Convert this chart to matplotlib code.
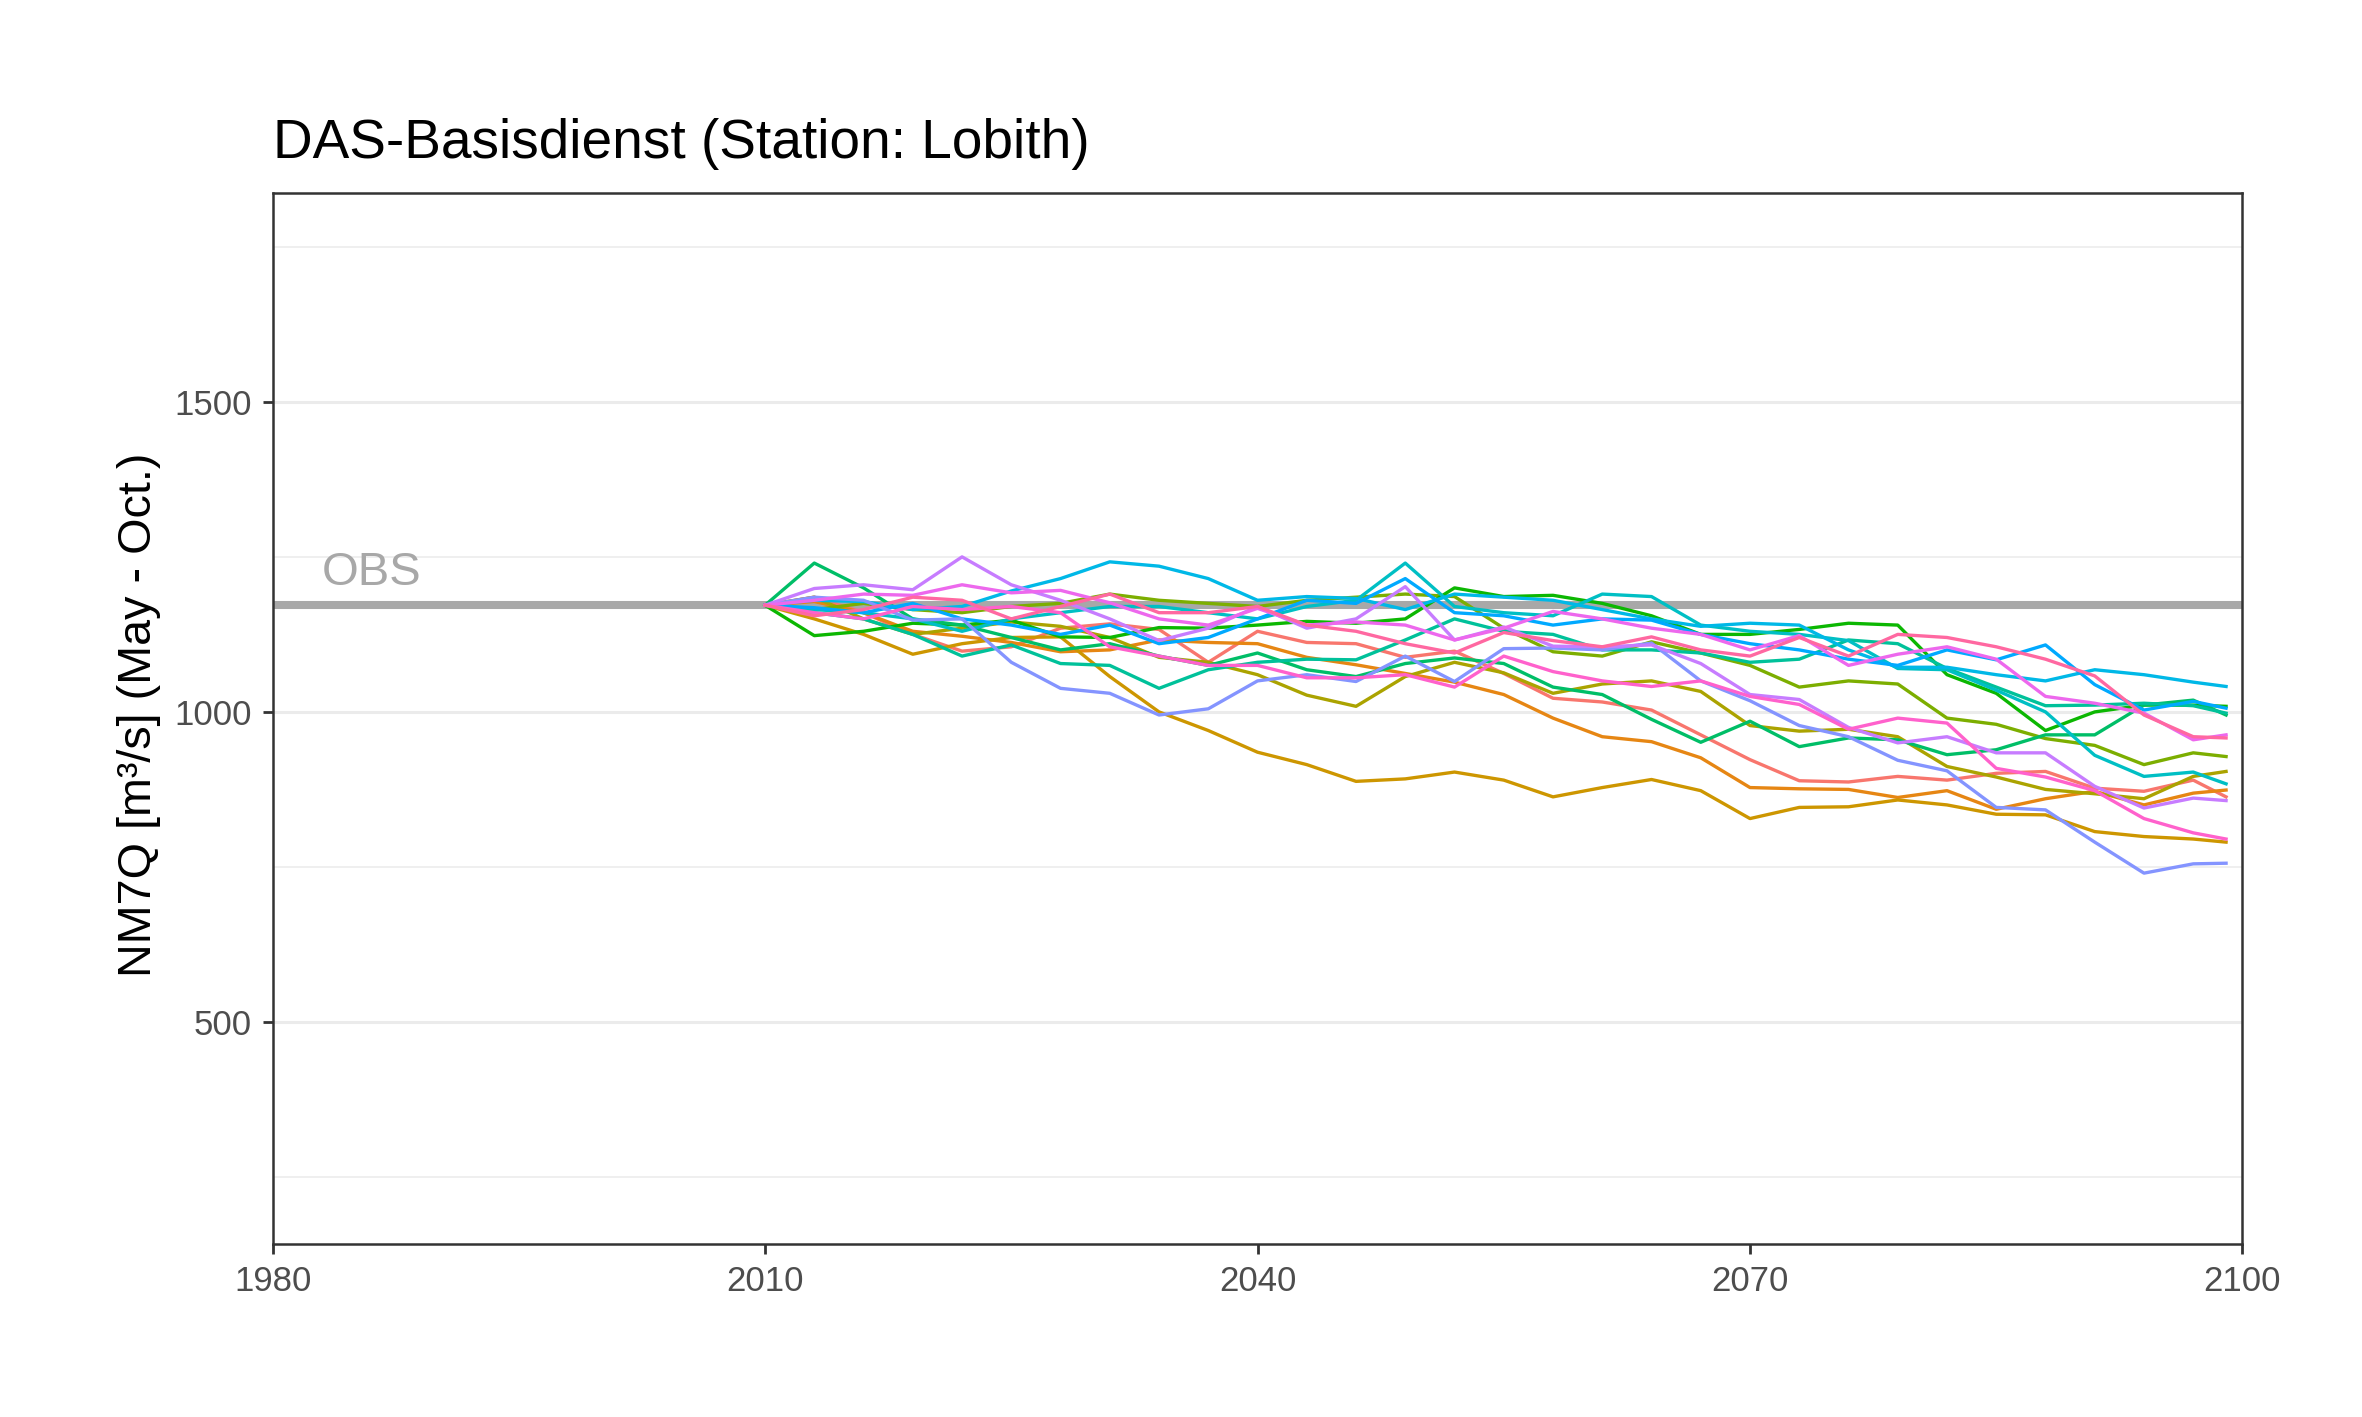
import numpy as np
import matplotlib
matplotlib.use("Agg")
import matplotlib.pyplot as plt

plt.rcParams["font.family"] = ["Liberation Sans", "DejaVu Sans"]

TITLE = "DAS-Basisdienst (Station: Lobith)"
YLABEL = "NM7Q [m³/s] (May - Oct.)"
OBS_VALUE = 1172

YEARS = [2010, 2013, 2016, 2019, 2022, 2025, 2028, 2031, 2034, 2037, 2040,
         2043, 2046, 2049, 2052, 2055, 2058, 2061, 2064, 2067, 2070, 2073,
         2076, 2079, 2082, 2085, 2088, 2091, 2094, 2097, 2099]

# one projection per model run (ggplot default hue order)
RUN01 = [1172, 1185, 1160, 1125, 1098, 1105, 1135, 1142, 1133, 1080, 1130, 1112, 1110, 1088, 1098, 1062,
         1022, 1016, 1003, 963, 923, 889, 887, 896, 890, 901, 904, 877, 872, 890, 863]
RUN02 = [1172, 1178, 1160, 1130, 1122, 1112, 1097, 1100, 1116, 1112, 1110, 1088, 1076, 1062, 1048, 1028,
         990, 960, 952, 926, 878, 876, 875, 862, 873, 843, 860, 872, 850, 869, 874]
RUN03 = [1172, 1150, 1125, 1093, 1110, 1120, 1121, 1057, 1000, 970, 935, 915, 888, 892, 903, 890,
         863, 878, 891, 873, 828, 846, 847, 858, 850, 835, 834, 807, 799, 795, 790]
RUN04 = [1172, 1185, 1150, 1125, 1135, 1145, 1138, 1120, 1088, 1080, 1060, 1027, 1009, 1057, 1080, 1063,
         1030, 1045, 1050, 1033, 978, 969, 972, 960, 912, 895, 875, 868, 860, 896, 904]
RUN05 = [1172, 1165, 1175, 1165, 1160, 1170, 1175, 1190, 1180, 1175, 1170, 1180, 1185, 1190, 1186, 1135,
         1097, 1090, 1113, 1095, 1075, 1040, 1050, 1045, 990, 980, 957, 946, 915, 934, 928]
RUN06 = [1172, 1123, 1130, 1143, 1140, 1148, 1121, 1120, 1136, 1135, 1140, 1146, 1143, 1150, 1200, 1186,
         1188, 1175, 1155, 1125, 1125, 1133, 1143, 1140, 1060, 1030, 970, 1000, 1011, 1011, 1009]
RUN07 = [1172, 1240, 1200, 1150, 1140, 1120, 1100, 1110, 1090, 1075, 1095, 1068, 1057, 1078, 1087, 1078,
         1040, 1028, 988, 951, 985, 944, 958, 955, 931, 939, 963, 963, 1011, 1019, 995]
RUN08 = [1172, 1160, 1150, 1125, 1090, 1108, 1078, 1075, 1038, 1068, 1080, 1085, 1084, 1116, 1150, 1130,
         1125, 1100, 1100, 1095, 1080, 1085, 1116, 1110, 1070, 1040, 1010, 1011, 1014, 1010, 998]
RUN09 = [1172, 1165, 1160, 1150, 1130, 1150, 1160, 1170, 1170, 1160, 1150, 1170, 1180, 1240, 1170, 1160,
         1155, 1190, 1186, 1140, 1130, 1125, 1115, 1070, 1068, 1035, 1000, 930, 896, 903, 884]
RUN10 = [1172, 1180, 1178, 1165, 1170, 1195, 1215, 1242, 1235, 1215, 1180, 1186, 1183, 1165, 1190, 1185,
         1180, 1165, 1150, 1138, 1143, 1140, 1100, 1072, 1072, 1060, 1050, 1068, 1060, 1048, 1041]
RUN11 = [1172, 1168, 1160, 1175, 1150, 1140, 1125, 1140, 1110, 1120, 1150, 1180, 1175, 1215, 1160, 1155,
         1140, 1150, 1148, 1125, 1110, 1100, 1085, 1075, 1100, 1084, 1108, 1044, 1003, 1017, 1006]
RUN12 = [1172, 1185, 1180, 1148, 1150, 1080, 1038, 1030, 995, 1005, 1050, 1060, 1049, 1090, 1049, 1102,
         1103, 1100, 1111, 1050, 1018, 978, 960, 922, 905, 846, 842, 790, 740, 755, 756]
RUN13 = [1172, 1199, 1205, 1197, 1250, 1205, 1180, 1150, 1115, 1135, 1170, 1135, 1150, 1202, 1116, 1137,
         1106, 1105, 1108, 1078, 1028, 1020, 975, 950, 960, 934, 934, 880, 845, 861, 857]
RUN14 = [1172, 1180, 1190, 1188, 1205, 1192, 1196, 1176, 1150, 1140, 1167, 1140, 1145, 1140, 1116, 1135,
         1162, 1150, 1135, 1125, 1100, 1123, 1075, 1093, 1105, 1085, 1025, 1014, 998, 955, 963]
RUN15 = [1172, 1160, 1150, 1170, 1165, 1170, 1160, 1105, 1090, 1075, 1075, 1055, 1055, 1060, 1040, 1090,
         1065, 1050, 1041, 1050, 1025, 1012, 972, 990, 982, 909, 895, 873, 828, 805, 795]
RUN16 = [1172, 1155, 1165, 1185, 1180, 1150, 1170, 1190, 1160, 1160, 1170, 1140, 1130, 1110, 1095, 1128,
         1115, 1105, 1121, 1100, 1090, 1120, 1090, 1125, 1120, 1105, 1085, 1058, 995, 960, 958]

RUNS = [RUN01, RUN02, RUN03, RUN04, RUN05, RUN06, RUN07, RUN08,
        RUN09, RUN10, RUN11, RUN12, RUN13, RUN14, RUN15, RUN16]


def hue_pal(n, c=100.0, l=65.0):
    """ggplot2-style evenly spaced hues in polar LUV (like R's hcl())."""
    hues = np.linspace(15, 375, n + 1)[:-1]
    xw, yw, zw = 95.047, 100.0, 108.883
    un = 4 * xw / (xw + 15 * yw + 3 * zw)
    vn = 9 * yw / (xw + 15 * yw + 3 * zw)
    out = []
    for h in hues:
        u_ = c * np.cos(np.radians(h))
        v_ = c * np.sin(np.radians(h))
        y = yw * (((l + 16) / 116) ** 3 if l > 7.999592 else l / 903.3)
        u = u_ / (13 * l) + un
        v = v_ / (13 * l) + vn
        x = 9.0 * y * u / (4 * v)
        z = -x / 3 - 5 * y + 3 * y / v
        x, y, z = x / 100, y / 100, z / 100
        rgb = [3.240479 * x - 1.537150 * y - 0.498535 * z,
               -0.969256 * x + 1.875992 * y + 0.041556 * z,
               0.055648 * x - 0.204043 * y + 1.057311 * z]
        rgb = [12.92 * t if t <= 0.0031308 else 1.055 * t ** (1 / 2.4) - 0.055 for t in rgb]
        out.append(tuple(min(max(t, 0.0), 1.0) for t in rgb))
    return out


COLORS = hue_pal(len(RUNS))

fig = plt.figure(figsize=(11.81, 7.085), dpi=200)
ax = fig.add_axes([0.1154, 0.1221, 0.834, 0.7418])

# grid (theme_bw look)
for v in [250, 750, 1250, 1750]:
    ax.axhline(v, color="#EBEBEB", linewidth=0.55, zorder=0)
for v in [500, 1000, 1500]:
    ax.axhline(v, color="#EBEBEB", linewidth=1.1, zorder=0)

ax.axhline(OBS_VALUE, color="#A8A8A8", linewidth=2.9, zorder=1)
ax.text(1983.0, 1205, "OBS", color="#A8A8A8", fontsize=17, ha="left", va="baseline")

for run, col in zip(RUNS, COLORS):
    ax.plot(YEARS, run, color=col, linewidth=1.2, zorder=2)

ax.set_xlim(1980, 2100)
ax.set_ylim(142, 1837)
ax.set_xticks([1980, 2010, 2040, 2070, 2100])
ax.set_yticks([500, 1000, 1500])
ax.tick_params(axis="both", length=3.5, width=1.0, color="#333333",
               labelcolor="#4D4D4D", labelsize=12.5, pad=4)
for s in ax.spines.values():
    s.set_color("#333333")
    s.set_linewidth(0.9)

fig.text(0.1154, 0.8885, TITLE, fontsize=19.8, ha="left", va="baseline", color="black")
fig.text(0.0587, 0.4954, YLABEL, fontsize=16.8, rotation=90, ha="center", va="center",
         color="black")

fig.savefig("out.png", dpi=200)
